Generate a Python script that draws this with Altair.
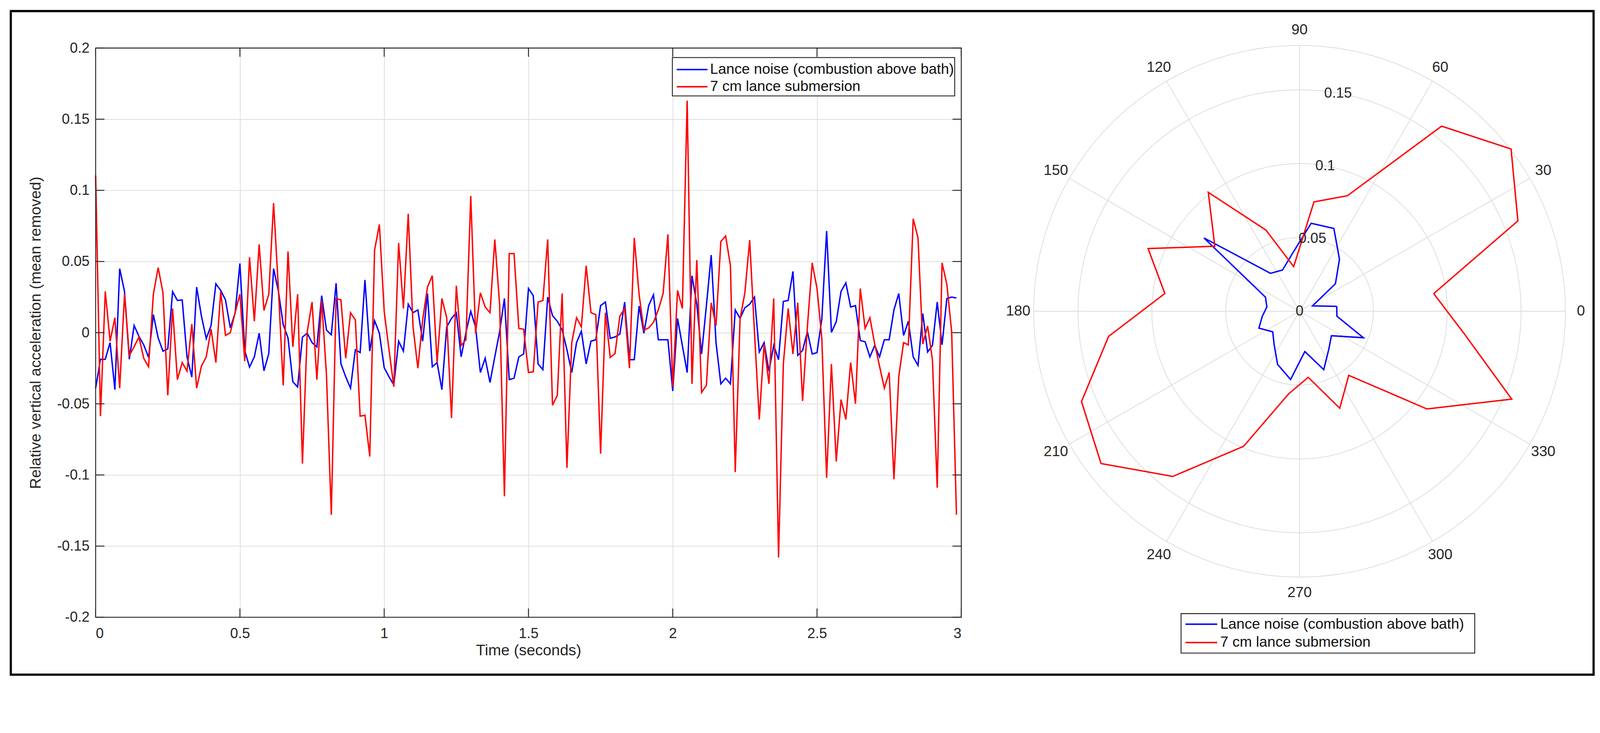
import numpy as np
import pandas as pd
import altair as alt

# ---------------- data ----------------
SERIES = ["Lance noise (combustion above bath)", "7 cm lance submersion"]
BLUE = "#0000ff"
RED = "#ff0000"

sample_rate = 60  # samples per second

lance_noise = [
    -0.039, -0.0187, -0.0187, -0.007, -0.040, 0.045, 0.029, -0.0187, 0.005, -0.0026,
    -0.0086, -0.0174, 0.0127, -0.0037, -0.013, -0.0114, 0.0288, 0.0226, 0.023, -0.017,
    -0.0312, 0.032, 0.0116, -0.0042, 0.005, 0.0343, 0.0297, 0.023, 0.0033, 0.0138,
    0.0486, -0.0125, -0.0242, -0.017, -0.0004, -0.0268, -0.0147, 0.045, 0.0292, 0.0057,
    -0.0037, -0.0345, -0.0382, -0.0031, -0.0004, -0.007, -0.010, 0.026, 0.0018, -0.0015,
    0.0347, -0.0218, -0.031, -0.039, -0.012, -0.014, 0.037, -0.013, 0.0084, -0.0004,
    -0.0246, -0.031, -0.0367, -0.006, -0.013, 0.020, 0.014, 0.016, -0.006, 0.0275,
    -0.024, -0.021, -0.040, 0.004, 0.010, 0.014, -0.017, 0.0, 0.015, 0.004,
    -0.028, -0.018, -0.035, -0.017, 0.0007, 0.024, -0.033, -0.032, -0.017, -0.015,
    0.031, 0.026, -0.022, -0.026, 0.025, 0.012, 0.008, 0.002, -0.012, -0.028,
    -0.007, 0.001, -0.022, -0.006, -0.005, 0.019, 0.0215, -0.004, -0.003, -0.001,
    0.0215, -0.019, -0.019, 0.0187, -0.0004, 0.019, 0.0266, -0.005, -0.005, -0.005,
    -0.041, 0.010, -0.009, -0.028, 0.040, 0.020, -0.015, 0.019, 0.0545, -0.007,
    -0.036, -0.032, -0.036, 0.016, 0.010, 0.0175, 0.020, 0.025, -0.0136, -0.007,
    -0.027, -0.009, -0.019, 0.022, 0.0226, 0.043, -0.016, -0.0125, 0.0007, -0.015,
    -0.014, 0.0095, 0.0714, 0.0002, 0.0077, 0.029, 0.035, 0.018, 0.019, -0.0055,
    -0.0064, -0.017, -0.009, -0.017, -0.005, -0.005, 0.016, 0.0275, -0.002, 0.008,
    -0.017, -0.023, 0.0134, -0.0136, -0.009, 0.0215, -0.0086, 0.024, 0.025, 0.0244,
]

submersion = [
    0.1105, -0.0587, 0.029, -0.006, 0.0105, -0.039, 0.027, -0.016, -0.0099, -0.003,
    -0.018, -0.024, 0.027, 0.0457, 0.028, -0.044, 0.017, -0.033, -0.021, -0.027,
    0.006, -0.039, -0.0235, -0.017, 0.0024, -0.021, 0.029, -0.002, 0.0, 0.014,
    0.027, -0.020, 0.053, 0.008, 0.062, 0.0156, 0.027, 0.091, 0.031, -0.037,
    0.057, -0.010, 0.027, -0.092, 0.0007, 0.0215, -0.033, 0.0226, -0.030, -0.128,
    0.024, 0.023, -0.018, 0.014, 0.009, -0.0587, -0.058, -0.087, 0.058, 0.076,
    0.015, -0.012, -0.038, 0.063, 0.017, 0.0835, 0.004, -0.025, 0.009, 0.032,
    0.040, -0.021, 0.024, 0.0105, -0.060, 0.033, -0.009, -0.005, 0.096, -0.0004,
    0.028, 0.018, 0.014, 0.0655, 0.020, -0.115, 0.0556, 0.0556, 0.003, 0.0024,
    -0.028, -0.0275, 0.0215, 0.0226, 0.0655, -0.051, -0.044, 0.0275, -0.095, -0.007,
    0.0105, 0.004, 0.047, 0.014, 0.0127, -0.085, 0.014, -0.0174, -0.0147, 0.0116,
    0.017, -0.025, 0.0666, 0.027, 0.0018, 0.0033, 0.0073, 0.016, 0.0275, 0.069,
    -0.038, 0.0297, 0.017, 0.163, -0.036, 0.051, -0.042, -0.037, 0.021, 0.005,
    0.064, 0.068, 0.047, -0.098, 0.0095, 0.028, 0.065, 0.0, -0.061, -0.008,
    -0.036, 0.024, -0.158, -0.022, 0.017, -0.015, 0.021, -0.048, 0.004, 0.049,
    0.031, -0.004, -0.102, -0.022, -0.0905, -0.047, -0.061, -0.021, -0.050, 0.031,
    0.003, 0.0105, -0.008, -0.0235, -0.039, -0.028, -0.103, -0.031, -0.007, -0.0086,
    0.080, 0.0666, -0.008, 0.0046, -0.019, -0.109, 0.049, 0.034, 0.0007, -0.128,
]

x_ticks = [0, 0.5, 1, 1.5, 2, 2.5, 3]
y_ticks = [-0.2, -0.15, -0.1, -0.05, 0, 0.05, 0.1, 0.15, 0.2]

polar_angles = [7.5, 22.5, 37.5, 52.5, 67.5, 82.5, 97.5, 112.5, 127.5, 142.5, 157.5, 172.5,
                187.5, 202.5, 217.5, 232.5, 247.5, 262.5, 277.5, 292.5, 307.5, 322.5, 337.5, 352.5]
polar_noise = [0.0254, 0.0095, 0.0306, 0.0444, 0.0607, 0.0601, 0.039, 0.0302, 0.0324, 0.0816,
               0.025, 0.0223, 0.0254, 0.0298, 0.0229, 0.0283, 0.0389, 0.0466, 0.0275, 0.0428,
               0.0325, 0.0272, 0.0468, 0.0255]
polar_sub = [0.0916, 0.160, 0.1805, 0.158, 0.0847, 0.0747, 0.0305, 0.0595, 0.1015, 0.0723,
             0.111, 0.092, 0.1304, 0.1598, 0.1694, 0.141, 0.099, 0.0564, 0.0451, 0.0711,
             0.0547, 0.1087, 0.1555, 0.112]
theta_ticks = [0, 30, 60, 90, 120, 150, 180, 210, 240, 270, 300, 330]
r_ticks = [0, 0.05, 0.1, 0.15]
r_max = 0.18

# ---------------- style ----------------
FONT = "Liberation Sans"
TXT = "#262626"
GRID = "#dcdcdc"
W1, H1 = 2367, 1557          # time-series plot area
W2, H2 = 1454, 1557          # polar plot area
CY = 720                     # polar centre, px below top of its view
LW = 3.8

# ---------------- left: time series ----------------
ts = pd.DataFrame({
    "t": np.arange(len(lance_noise)) / sample_rate,
    "noise": lance_noise,
    "sub": submersion,
})
xs = alt.Scale(domain=[0, 3], nice=False, zero=False)
ys = alt.Scale(domain=[-0.2, 0.2], nice=False, zero=False)

x_axis = alt.Axis(values=x_ticks, title="Time (seconds)", labelExpr="'' + datum.value",
                  labelPadding=26, titlePadding=6)
y_axis = alt.Axis(values=y_ticks, title="Relative vertical acceleration (mean removed)",
                  labelExpr="'' + datum.value", labelPadding=17, titlePadding=36)


def X(field):
    return alt.X(f"{field}:Q", scale=xs, axis=x_axis)


def Y(field):
    return alt.Y(f"{field}:Q", scale=ys, axis=y_axis)


blue_line = alt.Chart(ts).mark_line(color=BLUE, strokeWidth=LW).encode(x=X("t"), y=Y("noise"))
red_line = alt.Chart(ts).mark_line(color=RED, strokeWidth=LW).encode(x=X("t"), y=Y("sub"))

ytk = pd.DataFrame({"v": y_ticks})
xtk = pd.DataFrame({"v": x_ticks})
tick_len = 24
tick_style = dict(color=TXT, strokeWidth=2.5)
ticks_left = alt.Chart(ytk).mark_rule(**tick_style).encode(
    y=Y("v"), x=alt.value(0), x2=alt.value(tick_len))
ticks_right = alt.Chart(ytk).mark_rule(**tick_style).encode(
    y=Y("v"), x=alt.value(W1 - tick_len), x2=alt.value(W1))
ticks_bottom = alt.Chart(xtk).mark_rule(**tick_style).encode(
    x=X("v"), y=alt.value(H1 - tick_len), y2=alt.value(H1))
ticks_top = alt.Chart(xtk).mark_rule(**tick_style).encode(
    x=X("v"), y=alt.value(0), y2=alt.value(tick_len))

one = pd.DataFrame({"a": [0]})

box = alt.Chart(one).mark_rect(filled=False, stroke=TXT, strokeWidth=2.5).encode(
    x=alt.value(0), x2=alt.value(W1), y=alt.value(0), y2=alt.value(H1))


def legend_layers(x0, x1, y0, y1, rows, lx0, lx1, tx, fs):
    layers = [alt.Chart(one).mark_rect(fill="white", stroke=TXT, strokeWidth=2.5).encode(
        x=alt.value(x0), x2=alt.value(x1), y=alt.value(y0), y2=alt.value(y1))]
    for name, col, ry in zip(SERIES, [BLUE, RED], rows):
        layers.append(alt.Chart(one).mark_rule(color=col, strokeWidth=4).encode(
            x=alt.value(lx0), x2=alt.value(lx1), y=alt.value(ry)))
        layers.append(alt.Chart(one).mark_text(
            align="left", baseline="middle", font=FONT, fontSize=fs, color="#111111").encode(
            x=alt.value(tx), y=alt.value(ry), text=alt.value(name)))
    return layers


frame = alt.Chart(one).mark_rect(filled=False, stroke="black", strokeWidth=6).encode(
    x=alt.value(-232), x2=alt.value(4096), y=alt.value(-101), y2=alt.value(1714))

left = alt.layer(
    blue_line, red_line, ticks_left, ticks_right, ticks_bottom, ticks_top, box,
    *legend_layers(1577, 2349, 26, 131, [59, 106], 1589, 1673, 1680, 40),
    frame,
).properties(width=W1, height=H1)

# ---------------- right: polar ----------------
k = (W2 / 2) / r_max
pxs = alt.Scale(domain=[-r_max, r_max], nice=False, zero=False)
pys = alt.Scale(domain=[-(H2 - CY) / k, CY / k], nice=False, zero=False)


def enc_xy(xf="x", yf="y"):
    return dict(x=alt.X(f"{xf}:Q", scale=pxs, axis=None), y=alt.Y(f"{yf}:Q", scale=pys, axis=None))


ring_rows = []
for rr in r_ticks[1:] + [r_max]:
    for i, a in enumerate(np.arange(0, 361, 2)):
        ring_rows.append({"ring": rr, "i": i,
                          "x": rr * np.cos(np.radians(a)), "y": rr * np.sin(np.radians(a))})
rings = alt.Chart(pd.DataFrame(ring_rows)).mark_line(color=GRID, strokeWidth=2).encode(
    detail="ring:N", order="i:Q", **enc_xy())

spk = pd.DataFrame({
    "x0": 0.0, "y0": 0.0,
    "x1": [r_max * np.cos(np.radians(a)) for a in theta_ticks],
    "y1": [r_max * np.sin(np.radians(a)) for a in theta_ticks],
})
spokes = alt.Chart(spk).mark_rule(color=GRID, strokeWidth=2).encode(
    x=alt.X("x0:Q", scale=pxs, axis=None), y=alt.Y("y0:Q", scale=pys, axis=None),
    x2="x1:Q", y2="y1:Q")


def polygon(vals):
    ang = polar_angles + [polar_angles[0]]
    rv = list(vals) + [vals[0]]
    return pd.DataFrame({
        "i": range(len(ang)),
        "x": [r * np.cos(np.radians(a)) for r, a in zip(rv, ang)],
        "y": [r * np.sin(np.radians(a)) for r, a in zip(rv, ang)],
    })


blue_poly = alt.Chart(polygon(polar_noise)).mark_line(color=BLUE, strokeWidth=LW).encode(
    order="i:Q", **enc_xy())
red_poly = alt.Chart(polygon(polar_sub)).mark_line(color=RED, strokeWidth=LW).encode(
    order="i:Q", **enc_xy())

lab_r = 0.1905
ang_lab = pd.DataFrame({
    "txt": [str(a) for a in theta_ticks],
    "x": [lab_r * np.cos(np.radians(a)) for a in theta_ticks],
    "y": [lab_r * np.sin(np.radians(a)) for a in theta_ticks],
})
angle_labels = alt.Chart(ang_lab).mark_text(
    font=FONT, fontSize=40, color=TXT, align="center", baseline="middle").encode(
    text="txt:N", **enc_xy())

rl = pd.DataFrame({
    "txt": [f"{v:g}" for v in r_ticks],
    "x": [v * np.cos(np.radians(80)) for v in r_ticks],
    "y": [v * np.sin(np.radians(80)) for v in r_ticks],
})
ring_labels = alt.Chart(rl).mark_text(
    font=FONT, fontSize=39, color=TXT, align="center", baseline="middle").encode(
    text="txt:N", **enc_xy())

right = alt.layer(
    rings, spokes, blue_poly, red_poly, angle_labels, ring_labels,
    *legend_layers(403, 1206, 1547, 1655, [1576, 1626], 415, 502, 510, 40),
).properties(width=W2, height=H2)

chart = alt.hconcat(left, right, spacing=198, bounds="flush").properties(
    padding={"left": 17, "top": -43, "right": 5, "bottom": 5},
    background="white",
).configure_view(stroke="transparent").configure_axis(
    labelFont=FONT, labelFontSize=39, labelColor=TXT,
    titleFont=FONT, titleFontSize=42, titleFontWeight="normal", titleColor=TXT,
    grid=True, gridColor=GRID, gridWidth=2, domain=False, ticks=False,
)

chart.save("out.html", embed_options={"renderer": "svg", "actions": False})
